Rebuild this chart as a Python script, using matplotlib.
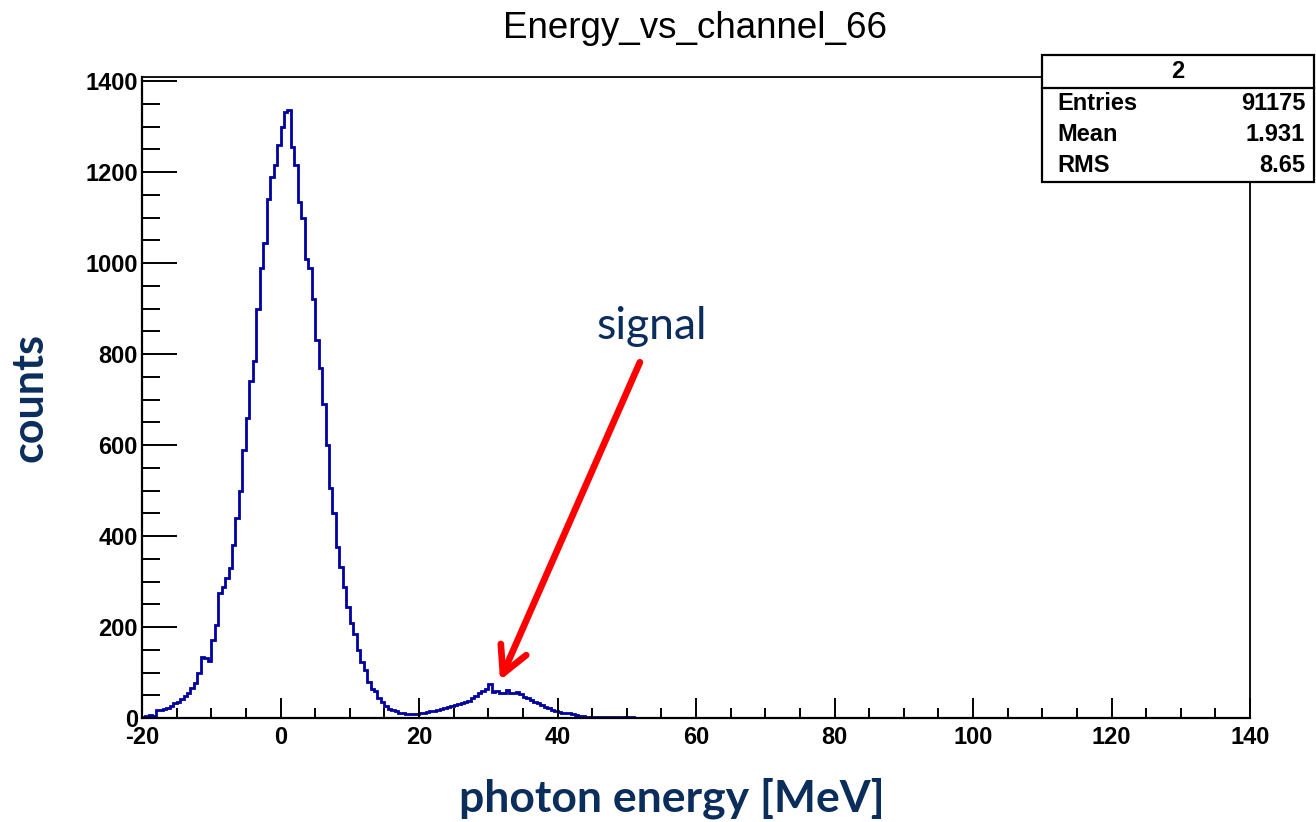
import numpy as np
import matplotlib
matplotlib.use("Agg")
import matplotlib.pyplot as plt
from matplotlib.ticker import MultipleLocator
from matplotlib.patches import Rectangle
from matplotlib.lines import Line2D

plt.rcParams["axes.unicode_minus"] = False

# ---------------- data ----------------
title = "Energy_vs_channel_66"
x_label = "photon energy [MeV]"
y_label = "counts"
annotation_text = "signal"
bin_low = -20.0
bin_width = 0.5
counts = [
    3, 5, 6, 5, 17, 18, 20, 22, 26, 32,            # -20 .. -15.5
    36, 42, 48, 56, 66, 76, 100, 135, 132, 126,    # -15 .. -10.5
    172, 205, 274, 289, 307, 330, 380, 440, 500, 590,   # -10 .. -5.5
    660, 740, 785, 900, 990, 1045, 1140, 1190, 1215, 1260,  # -5 .. -0.5
    1300, 1332, 1336, 1255, 1215, 1135, 1100, 1010, 990, 920,  # 0 .. 4.5
    830, 770, 690, 600, 505, 450, 376, 333, 289, 245,   # 5 .. 9.5
    208, 185, 150, 122, 105, 80, 64, 60, 45, 36,   # 10 .. 14.5
    26, 20, 18, 15, 12, 10, 9, 9, 8, 9,            # 15 .. 19.5
    10, 12, 14, 15, 15, 17, 19, 22, 25, 27,        # 20 .. 24.5
    29, 31, 33, 35, 37, 43, 48, 54, 60, 63,        # 25 .. 29.5
    74, 58, 60, 56, 55, 62, 55, 54, 58, 52,        # 30 .. 34.5
    47, 44, 40, 36, 32, 28, 25, 21, 18, 16,        # 35 .. 39.5
    13, 12, 11, 10, 9, 7, 5, 4, 3, 2,              # 40 .. 44.5
    2, 2, 2, 2, 2, 2, 2, 2, 1, 2,                  # 45 .. 49.5
    3, 2,                                          # 50 .. 50.5
]
stats_title = "2"
stats_names = ["Entries", "Mean", "RMS"]
stats_values = ["91175", "1.931", "8.65"]
x_range = (-20, 140)
y_range = (0, 1409)
arrow_tip = (31.7, 83)
arrow_tail = (51.9, 782)
text_pos = (53.6, 860)

# ---------------- style ----------------
W, H = 1316, 822
fig = plt.figure(figsize=(W / 100, H / 100), dpi=100)
ax = fig.add_axes([142 / W, 1 - 718 / H, (1250 - 142) / W, (718 - 77) / H])

edges = bin_low + bin_width * np.arange(len(counts) + 1)
ax.stairs(counts, edges, baseline=0, color="#0000a0", lw=2.0)

ax.set_xlim(*x_range)
ax.set_ylim(*y_range)

ax.xaxis.set_major_locator(MultipleLocator(20))
ax.xaxis.set_minor_locator(MultipleLocator(5))
ax.yaxis.set_major_locator(MultipleLocator(200))
ax.yaxis.set_minor_locator(MultipleLocator(50))

tick_font = "Liberation Sans"
ax.tick_params(axis="x", which="major", direction="in", length=14.5, width=1.4,
               pad=6, labelsize=17, top=False)
ax.tick_params(axis="x", which="minor", direction="in", length=7.2, width=1.4, top=False)
ax.tick_params(axis="y", which="major", direction="in", length=25, width=1.4,
               pad=3, labelsize=17, right=False)
ax.tick_params(axis="y", which="minor", direction="in", length=13, width=1.4, right=False)
for lab in ax.get_xticklabels() + ax.get_yticklabels():
    lab.set_fontfamily(tick_font)
    lab.set_fontweight("bold")

for side in ["left", "bottom"]:
    ax.spines[side].set_linewidth(1.6)
for side in ["top", "right"]:
    ax.spines[side].set_linewidth(1.3)

fig.text(695 / W, 1 - 28 / H, title, ha="center", va="center",
         fontsize=26.5, family=tick_font)

navy = "#0b2d5c"
fig.text(672 / W, 1 - 798 / H, x_label, ha="center", va="center",
         fontsize=32, family="Lato", fontweight="bold", color=navy)
fig.text(30 / W, 1 - 398 / H, y_label, ha="center", va="center", rotation=90,
         fontsize=31, family="Lato", fontweight="bold", color=navy)

ax.annotate("", xy=arrow_tip, xytext=arrow_tail,
            arrowprops=dict(arrowstyle="->,head_length=1.9,head_width=1.0",
                            color="#ff0000", lw=4.8, shrinkA=0, shrinkB=0))
ax.text(*text_pos, annotation_text, ha="center", va="center",
        fontsize=32, family="Lato", color=navy)

# stats box
x0, x1 = 1042 / W, 1314 / W
yt, yb, ys = 1 - 55 / H, 1 - 182 / H, 1 - 88 / H
fig.add_artist(Rectangle((x0, yb), x1 - x0, yt - yb, transform=fig.transFigure,
                         facecolor="white", edgecolor="black", lw=1.6, zorder=5))
fig.add_artist(Line2D([x0, x1], [ys, ys], transform=fig.transFigure,
                      color="black", lw=1.6, zorder=6))
fig.text((x0 + x1) / 2, 1 - 71 / H, stats_title, ha="center", va="center",
         fontsize=17, family=tick_font, fontweight="bold", zorder=7)
for i, (n, v) in enumerate(zip(stats_names, stats_values)):
    yy = 1 - (103 + 31.5 * i) / H
    fig.text(1057 / W, yy, n, ha="left", va="center", fontsize=17,
             family=tick_font, fontweight="bold", zorder=7)
    fig.text(1305 / W, yy, v, ha="right", va="center", fontsize=17,
             family=tick_font, fontweight="bold", zorder=7)

fig.savefig("out.png", dpi=100)
